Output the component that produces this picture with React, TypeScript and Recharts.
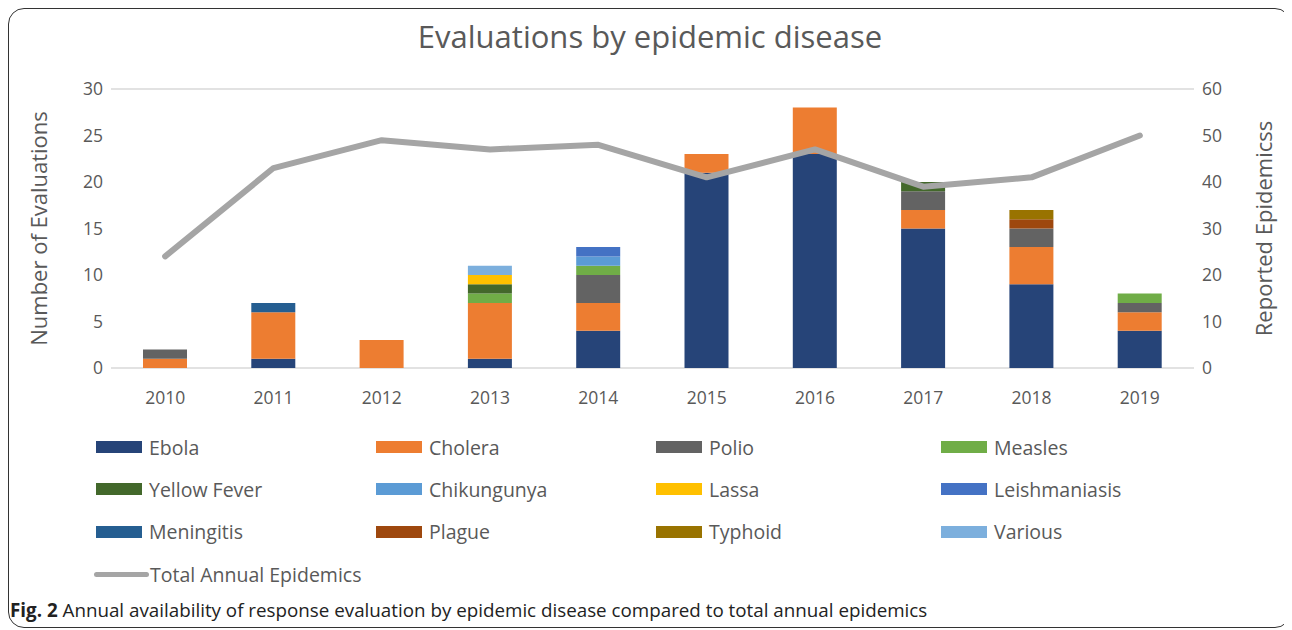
import React from "react";
import {
  ComposedChart,
  Bar,
  Line,
  XAxis,
  YAxis,
  CartesianGrid,
  Label,
} from "recharts";

const years = ["2010", "2011", "2012", "2013", "2014", "2015", "2016", "2017", "2018", "2019"];

const ebola = [0, 1, 0, 1, 4, 21, 23, 15, 9, 4];
const cholera = [1, 5, 3, 6, 3, 2, 5, 2, 4, 2];
const polio = [1, 0, 0, 0, 3, 0, 0, 2, 2, 1];
const measles = [0, 0, 0, 1, 1, 0, 0, 0, 0, 1];
const yellowFever = [0, 0, 0, 1, 0, 0, 0, 1, 0, 0];
const chikungunya = [0, 0, 0, 0, 1, 0, 0, 0, 0, 0];
const lassa = [0, 0, 0, 1, 0, 0, 0, 0, 0, 0];
const leishmaniasis = [0, 0, 0, 0, 1, 0, 0, 0, 0, 0];
const meningitis = [0, 1, 0, 0, 0, 0, 0, 0, 0, 0];
const plague = [0, 0, 0, 0, 0, 0, 0, 0, 1, 0];
const typhoid = [0, 0, 0, 0, 0, 0, 0, 0, 1, 0];
const various = [0, 0, 0, 1, 0, 0, 0, 0, 0, 0];
const totalEpidemics = [24, 43, 49, 47, 48, 41, 47, 39, 41, 50];

const leftTicks = [0, 5, 10, 15, 20, 25, 30];
const rightTicks = [0, 10, 20, 30, 40, 50, 60];

const series = [
  { key: "Ebola", values: ebola, color: "#264478" },
  { key: "Cholera", values: cholera, color: "#ED7D31" },
  { key: "Polio", values: polio, color: "#636363" },
  { key: "Measles", values: measles, color: "#70AD47" },
  { key: "Yellow Fever", values: yellowFever, color: "#43682B" },
  { key: "Chikungunya", values: chikungunya, color: "#5B9BD5" },
  { key: "Lassa", values: lassa, color: "#FFC000" },
  { key: "Leishmaniasis", values: leishmaniasis, color: "#4472C4" },
  { key: "Meningitis", values: meningitis, color: "#255E91" },
  { key: "Plague", values: plague, color: "#9E480E" },
  { key: "Typhoid", values: typhoid, color: "#997300" },
  { key: "Various", values: various, color: "#7CAFDD" },
];

const data = years.map((year, i) => {
  const row: any = { year, total: totalEpidemics[i] };
  series.forEach((s) => {
    row[s.key] = s.values[i];
  });
  return row;
});

const font = "'Open Sans', sans-serif";
const tickStyle = { fill: "#595959", fontSize: 17.5, fontFamily: font };

function LegendBlock() {
  const cols = [87, 367, 647, 932];
  return (
    <div style={{ position: "absolute", left: 0, top: 424, width: 1282, height: 170 }}>
      {series.map((s, i) => {
        const col = i % 4;
        const row = Math.floor(i / 4);
        return (
          <div
            key={s.key}
            style={{
              position: "absolute",
              left: cols[col],
              top: row * 42.3,
              height: 28,
              display: "flex",
              alignItems: "center",
            }}
          >
            <div style={{ width: 46, height: 12, background: s.color, marginRight: 7 }} />
            <span style={{ fontFamily: font, fontSize: 19.5, color: "#595959" }}>{s.key}</span>
          </div>
        );
      })}
      <div
        style={{
          position: "absolute",
          left: 85,
          top: 3 * 42.3 + 1,
          height: 28,
          display: "flex",
          alignItems: "center",
        }}
      >
        <div style={{ width: 55, height: 5, background: "#A5A5A5", borderRadius: 3, marginRight: 1 }} />
        <span style={{ fontFamily: font, fontSize: 19.5, color: "#595959" }}>Total Annual Epidemics</span>
      </div>
    </div>
  );
}

export default function App() {
  return (
    <div
      style={{
        position: "relative",
        width: 1283,
        height: 620,
        border: "1.5px solid #333",
        borderRadius: 16,
        boxSizing: "border-box",
        background: "#fff",
      }}
    >
      <div
        style={{
          position: "absolute",
          top: 6,
          left: 0,
          width: 1282,
          textAlign: "center",
          fontFamily: font,
          fontSize: 31,
          color: "#595959",
        }}
      >
        Evaluations by epidemic disease
      </div>
      <div style={{ position: "absolute", left: -1, top: -1 }}>
        <ComposedChart
          width={1282}
          height={622}
          data={data}
          margin={{ top: 81, right: 36, bottom: 232, left: 43 }}
          barCategoryGap="30%"
        >
          <CartesianGrid vertical={false} stroke="#D9D9D9" strokeWidth={1.5} />
          <XAxis
            dataKey="year"
            axisLine={false}
            tickLine={false}
            tick={tickStyle}
            tickMargin={18}
            height={30}
          />
          <YAxis
            yAxisId="left"
            domain={[0, 30]}
            ticks={leftTicks}
            axisLine={false}
            tickLine={false}
            tick={tickStyle}
            width={60}
          >
            <Label
              value="Number of Evaluations"
              angle={-90}
              position="insideLeft"
              offset={-12}
              style={{ textAnchor: "middle", fill: "#595959", fontSize: 22, fontFamily: font }}
            />
          </YAxis>
          <YAxis
            yAxisId="right"
            orientation="right"
            domain={[0, 60]}
            ticks={rightTicks}
            axisLine={false}
            tickLine={false}
            tick={tickStyle}
            width={60}
          >
            <Label
              value="Reported  Epidemicss"
              angle={-90}
              position="insideRight"
              offset={-10}
              style={{ textAnchor: "middle", fill: "#595959", fontSize: 22, fontFamily: font, whiteSpace: "pre" }}
            />
          </YAxis>
          {series.map((s) => (
            <Bar
              key={s.key}
              dataKey={s.key}
              stackId="a"
              yAxisId="left"
              fill={s.color}
              barSize={44}
              isAnimationActive={false}
            />
          ))}
          <Line
            dataKey="total"
            yAxisId="right"
            stroke="#A5A5A5"
            strokeWidth={6}
            dot={false}
            strokeLinecap="round"
            strokeLinejoin="round"
            isAnimationActive={false}
          />
        </ComposedChart>
      </div>
      <LegendBlock />
      <div
        style={{
          position: "absolute",
          left: 1,
          top: 588,
          fontFamily: font,
          fontSize: 18.8,
          color: "#222",
          whiteSpace: "nowrap",
        }}
      >
        <b>Fig. 2</b> Annual availability of response evaluation by epidemic disease compared to total annual epidemics
      </div>
    </div>
  );
}
